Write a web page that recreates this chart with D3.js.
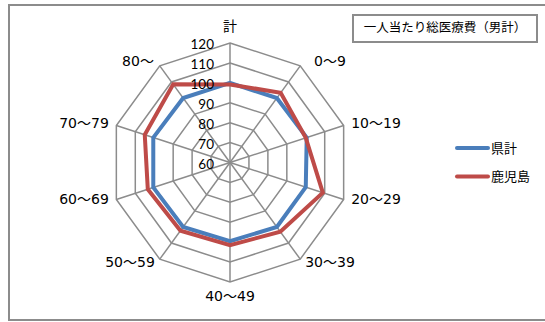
<!DOCTYPE html>
<html>
<head>
<meta charset="utf-8">
<script src="https://cdn.jsdelivr.net/npm/d3@7"></script>
<style>
  body { margin: 0; background: #fff; }
  svg text { font-family: "Noto Sans CJK JP", "DejaVu Sans", sans-serif; fill: #000; }
  svg text.cat { font-family: "DejaVu Sans", "Noto Sans CJK JP", sans-serif; }
  svg text.tick { font-family: Lato, "Liberation Sans", sans-serif; }
</style>
</head>
<body>
<div id="chart"></div>
<script>
// categories around the radar, starting at top, clockwise
var categories = ["計", "0～9", "10～19", "20～29", "30～39", "40～49", "50～59", "60～69", "70～79", "80～"];
var ticks = [60, 70, 80, 90, 100, 110, 120];
var prefTotal = [100, 100, 100.5, 100, 100, 99.5, 100, 100.5, 100.5, 100];   // 県計
var kagoshima = [99.2, 103.3, 100, 109, 103, 101.5, 102.3, 103.4, 105, 108.5]; // 鹿児島
var seriesNames = ["県計", "鹿児島"];
var chartTitle = "一人当たり総医療費（男計）";

var width = 545, height = 322;
var cx = 230, cy = 162.5, R = 119.5;
var colors = ["#4a7ebb", "#be4b48"];

var svg = d3.select("#chart").append("svg")
    .attr("width", width)
    .attr("height", height);

// outer frame
svg.append("rect")
    .attr("x", 9).attr("y", 5)
    .attr("width", 545).attr("height", 315)
    .attr("fill", "none")
    .attr("stroke", "#8c8c8c")
    .attr("stroke-width", 2);

var r = d3.scaleLinear().domain([60, 120]).range([0, R]);
var angle = d3.scalePoint().domain(categories).range([0, 2 * Math.PI * (categories.length - 1) / categories.length]);

function pt(cat, v) {
    var a = angle(cat);
    return [cx + r(v) * Math.sin(a), cy - r(v) * Math.cos(a)];
}

var grid = svg.append("g").attr("class", "grid");

// rings
ticks.forEach(function(t) {
    grid.append("polygon")
        .attr("points", categories.map(function(c) { return pt(c, t).join(","); }).join(" "))
        .attr("fill", "none")
        .attr("stroke", "#8c8c8c")
        .attr("stroke-width", 1.5);
});

// spokes
categories.forEach(function(c) {
    var p = pt(c, 120);
    grid.append("line")
        .attr("x1", cx).attr("y1", cy)
        .attr("x2", p[0]).attr("y2", p[1])
        .attr("stroke", "#8c8c8c")
        .attr("stroke-width", 1.5);
});

// series
var line = d3.lineRadial()
    .angle(function(d, i) { return angle(categories[i]); })
    .radius(function(d) { return r(d); })
    .curve(d3.curveLinearClosed);

[prefTotal, kagoshima].forEach(function(s, i) {
    svg.append("path")
        .attr("transform", "translate(" + cx + "," + cy + ")")
        .attr("d", line(s))
        .attr("fill", "none")
        .attr("stroke", colors[i])
        .attr("stroke-width", 4)
        .attr("stroke-linejoin", "miter");
});

// tick labels
ticks.forEach(function(t) {
    svg.append("text")
        .attr("class", "tick")
        .attr("x", 214)
        .attr("y", cy - r(t) + 3)
        .attr("text-anchor", "end")
        .attr("dominant-baseline", "middle")
        .style("font-size", "13.5px")
        .text(t);
});

// category labels
var labelPos = {
    "計": [230, 27], "0～9": [330, 62], "10～19": [376, 124], "20～29": [376, 200],
    "30～39": [330, 263], "40～49": [230, 297], "50～59": [130, 263],
    "60～69": [84, 200], "70～79": [84, 124], "80～": [138, 62]
};
categories.forEach(function(c) {
    svg.append("text")
        .attr("class", "cat")
        .attr("x", labelPos[c][0])
        .attr("y", labelPos[c][1])
        .attr("text-anchor", "middle")
        .attr("dominant-baseline", "middle")
        .style("font-size", "14px")
        .text(c);
});

// title box
svg.append("rect")
    .attr("x", 353).attr("y", 15)
    .attr("width", 184).attr("height", 27)
    .attr("fill", "#fff")
    .attr("stroke", "#8c8c8c")
    .attr("stroke-width", 2);
svg.append("text")
    .attr("x", 445).attr("y", 29)
    .attr("text-anchor", "middle")
    .attr("dominant-baseline", "middle")
    .style("font-size", "12.5px")
    .text(chartTitle);

// legend
var legend = svg.append("g");
seriesNames.forEach(function(n, i) {
    var y = 148 + i * 28.5;
    legend.append("line")
        .attr("x1", 457).attr("x2", 488)
        .attr("y1", y).attr("y2", y)
        .attr("stroke", colors[i])
        .attr("stroke-width", 4)
        .attr("stroke-linecap", "round");
    legend.append("text")
        .attr("x", 491).attr("y", y + 1)
        .attr("dominant-baseline", "middle")
        .style("font-size", "13px")
        .text(n);
});
</script>
</body>
</html>
